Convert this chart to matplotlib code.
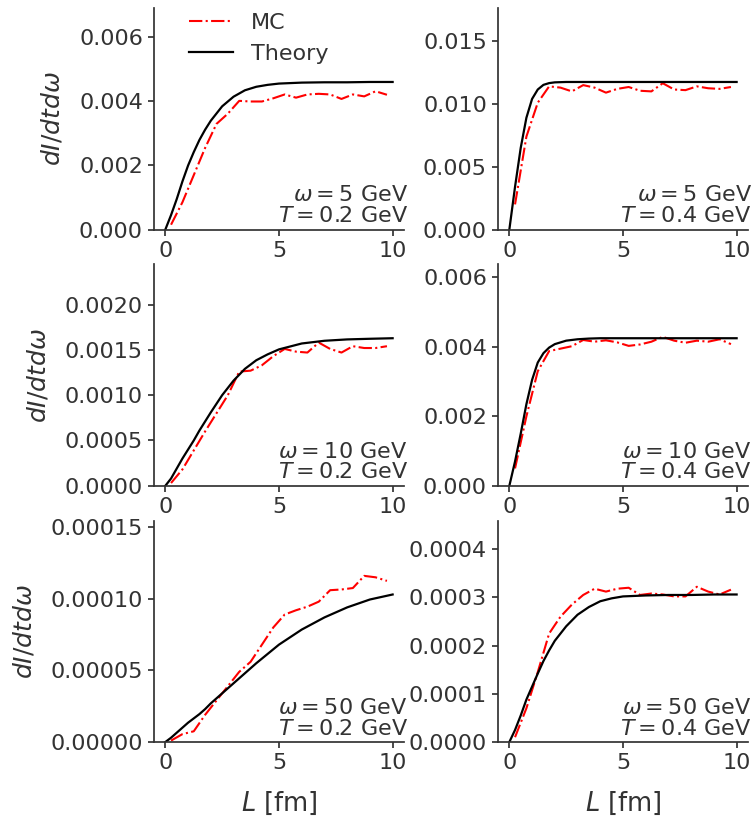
import matplotlib
matplotlib.use("Agg")
import matplotlib.pyplot as plt
from matplotlib.ticker import MultipleLocator
import numpy as np

# L grid of the theory curves and of the MC bins [fm]
L_theory = [0, 0.25, 0.5, 0.75, 1, 1.25, 1.5, 1.75, 2, 2.5, 3, 3.5, 4, 4.5, 5, 6, 7, 8, 9, 10]
L_mc = [0.25, 0.75, 1.25, 1.75, 2.25, 2.75, 3.25, 3.75, 4.25, 4.75,
        5.25, 5.75, 6.25, 6.75, 7.25, 7.75, 8.25, 8.75, 9.25, 9.75]

omegas = [5, 5, 10, 10, 50, 50]
temps = [0.2, 0.4, 0.2, 0.4, 0.2, 0.4]
ytick_steps = [0.002, 0.005, 0.0005, 0.002, 0.00005, 0.0001]

# theory curves
th_5_02 = np.array([0, 0.45, 0.95, 1.5, 2.0, 2.42, 2.8, 3.12, 3.4, 3.85, 4.15, 4.35,
                    4.46, 4.52, 4.56, 4.59, 4.6, 4.6, 4.61, 4.61]) * 1e-3
th_5_04 = np.array([0, 3.4, 6.5, 8.9, 10.4, 11.15, 11.52, 11.66, 11.72, 11.75, 11.75, 11.75,
                    11.75, 11.75, 11.75, 11.75, 11.75, 11.75, 11.75, 11.75]) * 1e-3
th_10_02 = np.array([0, 0.8, 1.9, 3.0, 4.0, 5.0, 6.1, 7.1, 8.1, 10.0, 11.6, 12.9,
                     13.85, 14.5, 15.05, 15.7, 16.0, 16.15, 16.22, 16.28]) * 1e-4
th_10_04 = np.array([0, 0.7, 1.5, 2.35, 3.05, 3.55, 3.82, 3.98, 4.08, 4.18, 4.22, 4.24,
                     4.25, 4.25, 4.25, 4.25, 4.25, 4.25, 4.25, 4.25]) * 1e-3
th_50_02 = np.array([0, 0.3, 0.65, 1.0, 1.35, 1.65, 1.95, 2.3, 2.7, 3.4, 4.1, 4.8,
                     5.5, 6.15, 6.8, 7.85, 8.7, 9.4, 9.95, 10.3]) * 1e-5
th_50_04 = np.array([0, 0.25, 0.55, 0.88, 1.15, 1.42, 1.68, 1.9, 2.1, 2.4, 2.64, 2.8,
                     2.92, 2.98, 3.02, 3.04, 3.05, 3.05, 3.06, 3.06]) * 1e-4

# MC results
mc_5_02 = np.array([0.15, 0.85, 1.7, 2.55, 3.3, 3.62, 4.02, 4.0, 4.0, 4.1,
                    4.22, 4.12, 4.22, 4.24, 4.22, 4.08, 4.22, 4.16, 4.32, 4.21]) * 1e-3
mc_5_04 = np.array([2.0, 7.4, 10.1, 11.4, 11.3, 11.0, 11.5, 11.3, 10.9, 11.2,
                    11.35, 11.05, 11.0, 11.65, 11.15, 11.1, 11.4, 11.25, 11.2, 11.35]) * 1e-3
mc_10_02 = np.array([0.3, 1.8, 3.9, 6.0, 8.0, 10.0, 12.6, 12.7, 13.3, 14.3,
                     15.1, 14.8, 14.7, 15.8, 15.1, 14.7, 15.4, 15.2, 15.2, 15.4]) * 1e-4
mc_10_04 = np.array([0.5, 2.0, 3.3, 3.88, 3.95, 4.02, 4.2, 4.15, 4.19, 4.13,
                     4.03, 4.07, 4.15, 4.29, 4.18, 4.12, 4.18, 4.15, 4.22, 4.08]) * 1e-3
mc_50_02 = np.array([0.1, 0.55, 0.75, 1.9, 2.9, 3.9, 4.9, 5.6, 6.8, 8.0,
                     8.9, 9.2, 9.45, 9.8, 10.6, 10.65, 10.75, 11.6, 11.5, 11.25]) * 1e-5
mc_50_04 = np.array([0.1, 0.7, 1.45, 2.25, 2.6, 2.85, 3.05, 3.18, 3.12, 3.18,
                     3.2, 3.05, 3.08, 3.06, 3.02, 3.02, 3.22, 3.12, 3.06, 3.16]) * 1e-4

theory = [th_5_02, th_5_04, th_10_02, th_10_04, th_50_02, th_50_04]
mc = [mc_5_02, mc_5_04, mc_10_02, mc_10_04, mc_50_02, mc_50_04]

grey = "#333333"
plt.rcParams["axes.edgecolor"] = grey
plt.rcParams["axes.linewidth"] = 1.25
plt.rcParams["text.color"] = grey
plt.rcParams["xtick.color"] = grey
plt.rcParams["ytick.color"] = grey
plt.rcParams["axes.labelcolor"] = grey

fig, axes = plt.subplots(3, 2, figsize=(7.56, 8.21), dpi=100)
fig.subplots_adjust(left=0.2037, right=0.9894, top=0.990, bottom=0.0962,
                    wspace=0.376, hspace=0.158)

for i, ax in enumerate(axes.flat):
    ax.plot(L_mc, mc[i], "-.", color="red", lw=1.5, label="MC")
    ax.plot(L_theory, theory[i], "-", color="black", lw=1.6, label="Theory")
    ax.set_ylim(0, 1.5 * theory[i].max())
    ax.yaxis.set_major_locator(MultipleLocator(ytick_steps[i]))
    ax.set_xlim(-0.5, 10.5)
    ax.set_xticks([0, 5, 10])
    ax.spines["top"].set_visible(False)
    ax.spines["right"].set_visible(False)
    ax.tick_params(labelsize=16, length=4.5, width=1.25)
    ax.text(1.015, 0.015, "$\\omega = %g$ GeV\n$T = %g$ GeV" % (omegas[i], temps[i]),
            transform=ax.transAxes, ha="right", va="bottom", fontsize=16,
            linespacing=1.05)
    if i % 2 == 0:
        ax.set_ylabel("$dI/dtd\\omega$", fontsize=18, labelpad=10)
    if i >= 4:
        ax.set_xlabel("$L$ [fm]", fontsize=18.5, labelpad=12)

axes[0, 0].legend(loc="upper left", bbox_to_anchor=(0.06, 1.07), frameon=False,
                  fontsize=16)

fig.savefig("out.png", dpi=100)
